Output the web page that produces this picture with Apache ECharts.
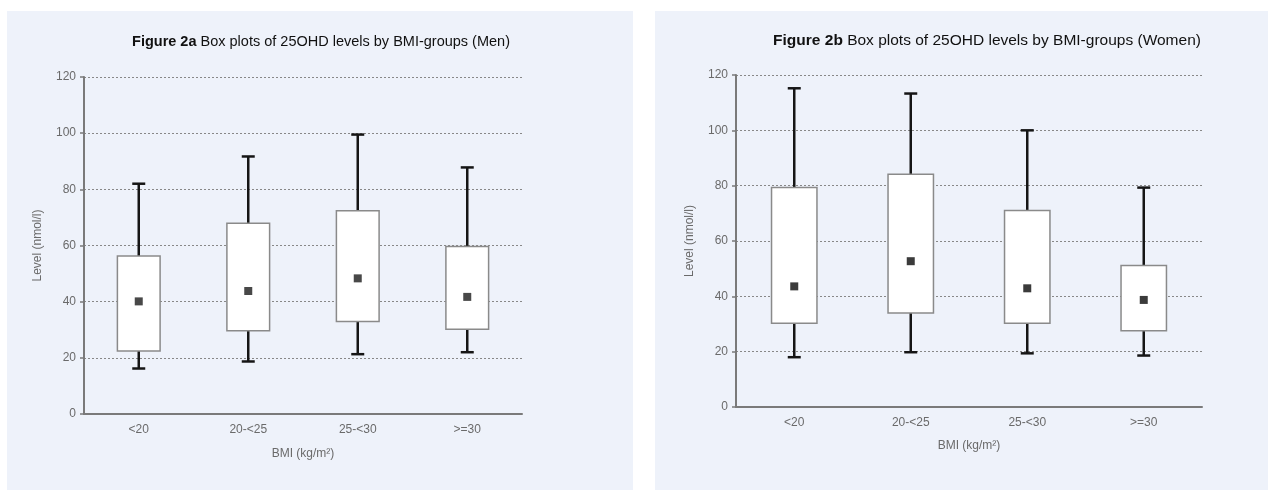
<!DOCTYPE html>
<html>
<head>
<meta charset="utf-8">
<script src="https://cdn.jsdelivr.net/npm/echarts@6/dist/echarts.min.js"></script>
<style>
html,body{margin:0;padding:0;background:#fff;}
#c{width:1268px;height:490px;}
</style>
</head>
<body>
<div id="c"></div>
<script>
// ---- data ----
var categories = ['<20', '20-<25', '25-<30', '>=30'];
var yTicks = [0, 20, 40, 60, 80, 100, 120];

var menMin  = [16.2, 18.7, 21.3, 22.0];
var menQ1   = [22.4, 29.6, 32.9, 30.2];
var menQ3   = [56.3, 67.9, 72.4, 59.6];
var menMax  = [82.0, 91.7, 99.5, 87.8];
var menMean = [40.1, 43.8, 48.3, 41.7];

var womenMin  = [18.0, 19.8, 19.4, 18.6];
var womenQ1   = [30.3, 34.0, 30.3, 27.6];
var womenQ3   = [79.3, 84.1, 71.0, 51.1];
var womenMax  = [115.2, 113.3, 100.0, 79.3];
var womenMean = [43.6, 52.7, 42.9, 38.7];

var titleMen = 'Box plots of 25OHD levels by BMI-groups (Men)';
var titleWomen = 'Box plots of 25OHD levels by BMI-groups (Women)';

// ---- helpers ----
var BG = '#EEF2FA';
var FF = 'Liberation Sans, Arial';
function boxData(mn, q1, q3, mx) {
  return categories.map(function (c, i) { return [i, mn[i], q1[i], q3[i], mx[i]]; });
}
function meanData(m) {
  return categories.map(function (c, i) { return [i, m[i]]; });
}
function renderBox(params, api) {
  var i = api.value(0);
  var pMin = api.coord([i, api.value(1)]);
  var pQ1 = api.coord([i, api.value(2)]);
  var pQ3 = api.coord([i, api.value(3)]);
  var pMax = api.coord([i, api.value(4)]);
  var band = api.size([1, 0])[0];
  var w = band * 0.39;
  var cap = 13;
  var x = pMin[0];
  var lineStyle = { stroke: '#151515', lineWidth: 2.5 };
  return {
    type: 'group',
    children: [
      { type: 'line', shape: { x1: x, y1: pMax[1], x2: x, y2: pMin[1] }, style: lineStyle },
      { type: 'line', shape: { x1: x - cap / 2, y1: pMax[1], x2: x + cap / 2, y2: pMax[1] }, style: lineStyle },
      { type: 'line', shape: { x1: x - cap / 2, y1: pMin[1], x2: x + cap / 2, y2: pMin[1] }, style: lineStyle },
      { type: 'rect', shape: { x: x - w / 2, y: pQ3[1], width: w, height: pQ1[1] - pQ3[1] },
        style: { fill: '#ffffff', stroke: '#8a8a8a', lineWidth: 1.5 } }
    ]
  };
}
function yAxisOpt(gi) {
  return {
    type: 'value', gridIndex: gi, min: 0, max: 120, interval: 20,
    name: 'Level (nmol/l)', nameLocation: 'middle', nameGap: 40, nameRotate: 90,
    nameTextStyle: { color: '#6a6a6a', fontSize: 12, fontFamily: FF },
    axisLine: { show: true, lineStyle: { color: '#7a7a7a', width: 2 } },
    axisTick: { show: true, length: 4, lineStyle: { color: '#7a7a7a', width: 1.5 } },
    axisLabel: { color: '#6a6a6a', fontSize: 12, margin: 8, fontFamily: FF,
      formatter: function (v) { return yTicks.indexOf(v) >= 0 ? String(v) : ''; } },
    splitLine: { show: true, lineStyle: { color: '#888888', type: [2, 2], width: 1 } }
  };
}
function xAxisOpt(gi, gap) {
  return {
    type: 'category', gridIndex: gi, data: categories,
    name: 'BMI (kg/m²)', nameLocation: 'middle', nameGap: gap,
    nameTextStyle: { color: '#6a6a6a', fontSize: 12, fontFamily: FF },
    axisLine: { show: true, lineStyle: { color: '#7a7a7a', width: 2 } },
    axisTick: { show: false },
    axisLabel: { color: '#6a6a6a', fontSize: 12, margin: 10, fontFamily: FF },
    splitLine: { show: false }
  };
}

var chart = echarts.init(document.getElementById('c'), null, { renderer: 'canvas' });
chart.setOption({
  animation: false,
  backgroundColor: '#ffffff',
  graphic: [
    { type: 'rect', left: 7, top: 11, shape: { width: 626, height: 479 }, style: { fill: BG }, z: -10 },
    { type: 'rect', left: 655, top: 11, shape: { width: 613, height: 479 }, style: { fill: BG }, z: -10 }
  ],
  title: [
    { text: '{b|Figure 2a} ' + titleMen, left: 316, top: 29, textAlign: 'center',
      textStyle: { rich: { b: { fontWeight: 'bold', fontSize: 14.5, color: '#111', fontFamily: FF } },
        fontWeight: 'normal', fontSize: 14.5, color: '#111', fontFamily: FF } },
    { text: '{b|Figure 2b} ' + titleWomen, left: 982, top: 28, textAlign: 'center',
      textStyle: { rich: { b: { fontWeight: 'bold', fontSize: 15.5, color: '#111', fontFamily: FF } },
        fontWeight: 'normal', fontSize: 15.5, color: '#111', fontFamily: FF } }
  ],
  grid: [
    { left: 84, right: 746, top: 77, bottom: 76 },
    { left: 736, right: 66, top: 75, bottom: 83 }
  ],
  xAxis: [xAxisOpt(0, 34), xAxisOpt(1, 33)],
  yAxis: [yAxisOpt(0), yAxisOpt(1)],
  series: [
    { type: 'custom', xAxisIndex: 0, yAxisIndex: 0, renderItem: renderBox,
      encode: { x: 0, y: [1, 2, 3, 4] }, data: boxData(menMin, menQ1, menQ3, menMax), z: 3 },
    { type: 'scatter', xAxisIndex: 0, yAxisIndex: 0, symbol: 'rect', symbolSize: 8,
      itemStyle: { color: '#1a1a1a' }, data: meanData(menMean), z: 5 },
    { type: 'custom', xAxisIndex: 1, yAxisIndex: 1, renderItem: renderBox,
      encode: { x: 0, y: [1, 2, 3, 4] }, data: boxData(womenMin, womenQ1, womenQ3, womenMax), z: 3 },
    { type: 'scatter', xAxisIndex: 1, yAxisIndex: 1, symbol: 'rect', symbolSize: 8,
      itemStyle: { color: '#0a0a0a' }, data: meanData(womenMean), z: 5 }
  ]
});
</script>
</body>
</html>
